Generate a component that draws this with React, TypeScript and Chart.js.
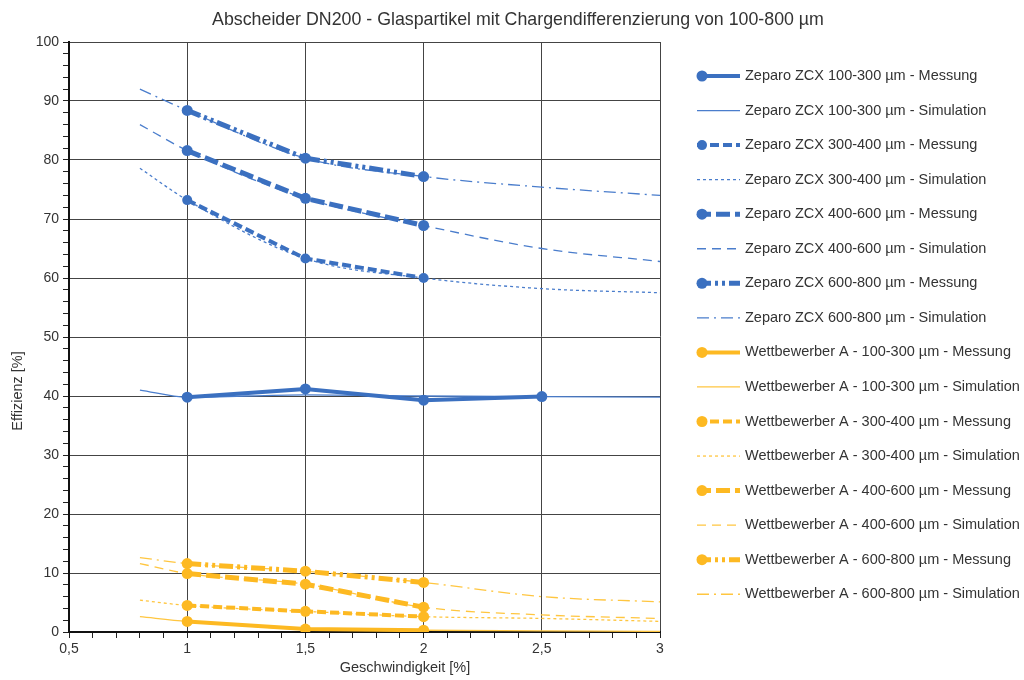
import React, { useEffect, useRef } from "react";
import { Chart, registerables } from "chart.js";

Chart.register(...registerables);

const TITLE = "Abscheider DN200 - Glaspartikel mit Chargendifferenzierung von 100-800 µm";
const X_TITLE = "Geschwindigkeit [%]";
const Y_TITLE = "Effizienz [%]";

const xMess = [1, 1.5, 2];
const xMessZ1 = [1, 1.5, 2, 2.5];
const xSim = [0.8, 1, 1.5, 2, 2.5, 3];

// Zeparo ZCX
const zcx100Mess = [39.8, 41.2, 39.3, 39.9];
const zcx100Sim = [41.0, 39.8, 40.2, 40.0, 39.9, 39.8];
const zcx300Mess = [73.2, 63.3, 60.0];
const zcx300Sim = [78.6, 73.2, 63.3, 60.0, 58.2, 57.5];
const zcx400Mess = [81.6, 73.5, 68.9];
const zcx400Sim = [86.0, 81.6, 73.5, 68.9, 65.0, 62.8];
const zcx600Mess = [88.4, 80.3, 77.2];
const zcx600Sim = [92.0, 88.4, 80.3, 77.2, 75.4, 74.0];

// Wettbewerber A
const wa100Mess = [1.8, 0.5, 0.3];
const wa100Sim = [2.6, 1.8, 0.5, 0.3, 0.2, 0.1];
const wa300Mess = [4.5, 3.5, 2.6];
const wa300Sim = [5.4, 4.5, 3.5, 2.6, 2.3, 1.8];
const wa400Mess = [9.9, 8.1, 4.2];
const wa400Sim = [11.6, 9.9, 8.1, 4.2, 2.9, 2.3];
const wa600Mess = [11.6, 10.3, 8.4];
const wa600Sim = [12.6, 11.6, 10.3, 8.4, 6.0, 5.1];

const BLUE = "#3b70c0";
const BLUE_SIM = "#4a7dcc";
const GOLD = "#fdb922";
const GOLD_SIM = "#ffc640";
const TEXT = "#333333";
const FONT = "'Liberation Sans', Arial, sans-serif";

const pts = (xs: number[], ys: number[]) => xs.map((x, i) => ({ x, y: ys[i] }));

const DASH = {
  solid: [] as number[],
  messDash: [9, 4],
  messLong: [14, 5],
  messDashDotDot: [14, 4, 3, 4, 3, 4],
  simDot: [3, 3],
  simDash: [9, 6],
  simDashDot: [12, 5, 2, 5],
};

function mess(label: string, xs: number[], ys: number[], color: string, dash: number[], width: number, radius: number) {
  return {
    label,
    data: pts(xs, ys),
    borderColor: color,
    backgroundColor: color,
    borderWidth: width,
    borderDash: dash,
    pointRadius: radius,
    pointHoverRadius: radius,
    pointBorderWidth: 0,
    pointBackgroundColor: color,
    showLine: true,
    fill: false,
    tension: 0,
    order: 0,
  };
}

function sim(label: string, ys: number[], color: string, dash: number[]) {
  return {
    label,
    data: pts(xSim, ys),
    borderColor: color,
    backgroundColor: color,
    borderWidth: 1.3,
    borderDash: dash,
    pointRadius: 0,
    pointHoverRadius: 0,
    showLine: true,
    fill: false,
    tension: 0.35,
    cubicInterpolationMode: "monotone",
    order: 1,
  };
}

const customDraw = {
  id: "customDraw",
  afterDraw(chart: any) {
    const ctx = chart.ctx as CanvasRenderingContext2D;
    ctx.save();
    // title
    ctx.fillStyle = TEXT;
    ctx.font = `17.8px ${FONT}`;
    ctx.textAlign = "center";
    ctx.textBaseline = "middle";
    ctx.fillText(TITLE, 518, 20);
    // x title
    ctx.font = `14.5px ${FONT}`;
    ctx.fillText(X_TITLE, 405, 668);
    // y title
    ctx.save();
    ctx.translate(18, 391);
    ctx.rotate(-Math.PI / 2);
    ctx.fillText(Y_TITLE, 0, 0);
    ctx.restore();
    // legend
    const ds = chart.data.datasets;
    const x0 = 697;
    const x1 = 740;
    ds.forEach((d: any, i: number) => {
      const y = 76 + i * 34.55;
      ctx.save();
      ctx.strokeStyle = d.borderColor;
      ctx.lineWidth = d.borderWidth;
      ctx.setLineDash(d.borderDash || []);
      ctx.beginPath();
      ctx.moveTo(x0, y);
      ctx.lineTo(x1, y);
      ctx.stroke();
      ctx.setLineDash([]);
      if (d.pointRadius > 0) {
        ctx.fillStyle = d.borderColor;
        ctx.beginPath();
        ctx.arc(x0 + 5, y, d.pointRadius, 0, Math.PI * 2);
        ctx.fill();
      }
      ctx.restore();
      ctx.fillStyle = TEXT;
      ctx.font = `14.5px ${FONT}`;
      ctx.textAlign = "left";
      ctx.textBaseline = "middle";
      ctx.fillText(d.label, 745, y);
    });
    ctx.restore();
  },
};

const isMult = (v: number, step: number) => Math.abs(v / step - Math.round(v / step)) < 1e-6;

export default function App() {
  const ref = useRef<HTMLCanvasElement | null>(null);
  useEffect(() => {
    if (!ref.current) return;
    const datasets: any[] = [
      mess("Zeparo ZCX 100-300 µm - Messung", xMessZ1, zcx100Mess, BLUE, DASH.solid, 4, 5.5),
      sim("Zeparo ZCX 100-300 µm - Simulation", zcx100Sim, BLUE_SIM, DASH.solid),
      mess("Zeparo ZCX 300-400 µm - Messung", xMess, zcx300Mess, BLUE, DASH.messDash, 4, 5),
      sim("Zeparo ZCX 300-400 µm - Simulation", zcx300Sim, BLUE_SIM, DASH.simDot),
      mess("Zeparo ZCX 400-600 µm - Messung", xMess, zcx400Mess, BLUE, DASH.messLong, 5, 5.5),
      sim("Zeparo ZCX 400-600 µm - Simulation", zcx400Sim, BLUE_SIM, DASH.simDash),
      mess("Zeparo ZCX 600-800 µm - Messung", xMess, zcx600Mess, BLUE, DASH.messDashDotDot, 5, 5.5),
      sim("Zeparo ZCX 600-800 µm - Simulation", zcx600Sim, BLUE_SIM, DASH.simDashDot),
      mess("Wettbewerber A - 100-300 µm - Messung", xMess, wa100Mess, GOLD, DASH.solid, 4, 5.5),
      sim("Wettbewerber A - 100-300 µm - Simulation", wa100Sim, GOLD_SIM, DASH.solid),
      mess("Wettbewerber A - 300-400 µm - Messung", xMess, wa300Mess, GOLD, DASH.messDash, 4, 5.5),
      sim("Wettbewerber A - 300-400 µm - Simulation", wa300Sim, GOLD_SIM, DASH.simDot),
      mess("Wettbewerber A - 400-600 µm - Messung", xMess, wa400Mess, GOLD, DASH.messLong, 5, 5.5),
      sim("Wettbewerber A - 400-600 µm - Simulation", wa400Sim, GOLD_SIM, DASH.simDash),
      mess("Wettbewerber A - 600-800 µm - Messung", xMess, wa600Mess, GOLD, DASH.messDashDotDot, 5, 5.5),
      sim("Wettbewerber A - 600-800 µm - Simulation", wa600Sim, GOLD_SIM, DASH.simDashDot),
    ];
    const chart = new Chart(ref.current, {
      type: "scatter",
      data: { datasets },
      plugins: [customDraw],
      options: {
        responsive: false,
        animation: false,
        devicePixelRatio: 1,
        layout: { padding: { left: 0, right: 364, top: 42, bottom: 0 } },
        plugins: {
          legend: { display: false },
          title: { display: false },
          tooltip: { enabled: false },
        },
        scales: {
          x: {
            type: "linear",
            min: 0.5,
            max: 3,
            afterFit: (s: any) => {
              s.height = 48;
            },
            afterBuildTicks: (s: any) => {
              const t = [];
              for (let k = 0; k <= 25; k++) t.push({ value: Math.round((0.5 + k * 0.1) * 10) / 10 });
              s.ticks = t;
            },
            border: { color: "#111", width: 2 },
            grid: {
              color: (c: any) => (c.tick && isMult(c.tick.value, 0.5) ? "#444" : "rgba(0,0,0,0)"),
              tickColor: "#222",
              tickLength: 6,
              lineWidth: 1,
            },
            ticks: {
              autoSkip: false,
              maxRotation: 0,
              padding: 3,
              color: TEXT,
              font: { family: FONT, size: 14 },
              callback: (v: any) => {
                const n = Number(v);
                if (!isMult(n, 0.5)) return "";
                return String(n).replace(".", ",");
              },
            },
          },
          y: {
            type: "linear",
            min: 0,
            max: 100,
            afterFit: (s: any) => {
              s.width = 69;
            },
            afterBuildTicks: (s: any) => {
              const t = [];
              for (let k = 0; k <= 50; k++) t.push({ value: k * 2 });
              s.ticks = t;
            },
            border: { color: "#111", width: 2 },
            grid: {
              color: (c: any) => (c.tick && isMult(c.tick.value, 10) ? "#444" : "rgba(0,0,0,0)"),
              tickColor: "#222",
              tickLength: 6,
              lineWidth: 1,
            },
            ticks: {
              autoSkip: false,
              padding: 4,
              color: TEXT,
              font: { family: FONT, size: 14 },
              callback: (v: any) => {
                const n = Number(v);
                return isMult(n, 10) ? String(n) : "";
              },
            },
            title: { display: false },
          },
        },
      } as any,
    });
    return () => chart.destroy();
  }, []);
  return (
    <div style={{ position: "fixed", left: 0, top: 0, width: 1024, height: 680, background: "#fff" }}>
      <canvas ref={ref} width={1024} height={680} style={{ width: 1024, height: 680 }} />
    </div>
  );
}
